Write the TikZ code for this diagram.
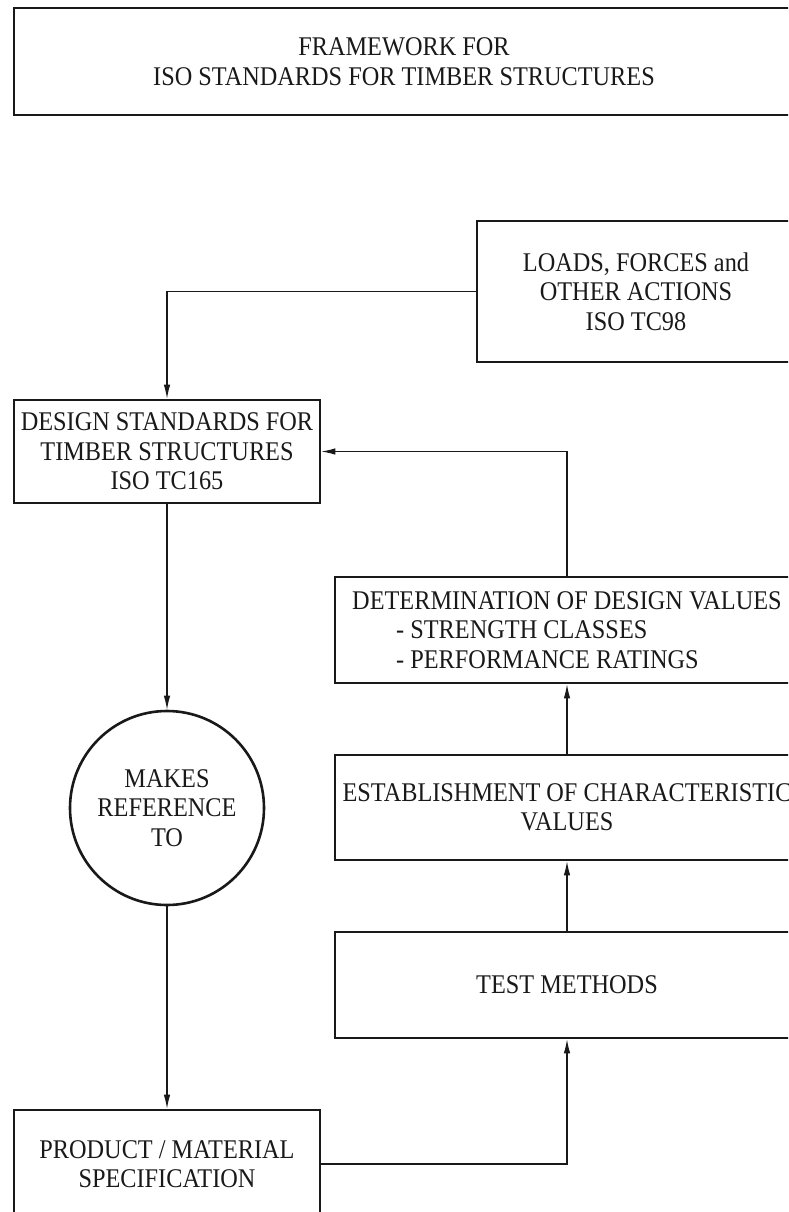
\documentclass[tikz,border=0pt]{standalone}
\usepackage{fontspec}
\setmainfont[FakeStretch=0.9]{Liberation Serif}
\usepackage{tikz}
\usetikzlibrary{arrows.meta, positioning}
\newcommand{\boxfont}{\fontsize{27}{29.5}\selectfont}

\begin{document}
\begin{tikzpicture}[x=1pt, y=-1pt, ->, >={Latex[length=14pt,width=6.5pt]}, line width=1.1pt, draw=black!90,
    block/.style={draw, line width=2.6pt, rectangle, inner sep=2pt, align=center, font=\boxfont, text=black!90},
    refcircle/.style={draw, line width=2.6pt, circle, inner sep=0pt, minimum size=194pt, align=center, font=\boxfont, text=black!90}]
    \useasboundingbox (0,0) rectangle (788,1212);
    \clip (0,0) rectangle (788,1212);
    \node[block, minimum width=780pt, minimum height=107pt] (frame) at (404,61.5) {FRAMEWORK FOR\\ISO STANDARDS FOR TIMBER STRUCTURES};
    \node[block, minimum width=318pt, minimum height=141pt] (loads) at (636,291.5) {LOADS, FORCES and\\OTHER ACTIONS\\ISO TC98};
    \node[block, minimum width=306pt, minimum height=103pt] (design) at (167,451.5) {DESIGN STANDARDS FOR\\TIMBER STRUCTURES\\ISO TC165};
    \node[block, minimum width=464pt, minimum height=106pt, align=left] (determ) at (567,630) {DETERMINATION OF DESIGN VALUES\\\hspace*{44pt}- STRENGTH CLASSES\\\hspace*{44pt}- PERFORMANCE RATINGS};
    \node[block, minimum width=464pt, minimum height=105pt] (establ) at (567,807.5) {ESTABLISHMENT OF CHARACTERISTIC\\VALUES};
    \node[block, minimum width=464pt, minimum height=106pt] (test) at (567,985) {TEST METHODS};
    \node[refcircle] (makes) at (167,808) {MAKES\\REFERENCE\\TO};
    \node[block, minimum width=306pt, minimum height=108pt] (product) at (167,1164) {PRODUCT / MATERIAL\\SPECIFICATION};

    \draw (loads.west) -| (design.north);
    \draw (design) -- (makes);
    \draw (makes) -- (product);
    \draw (product.east) -| (test.south);
    \draw (test) -- (establ);
    \draw (establ) -- (determ);
    \draw (determ.north) |- (design.east);
\end{tikzpicture}
\end{document}
